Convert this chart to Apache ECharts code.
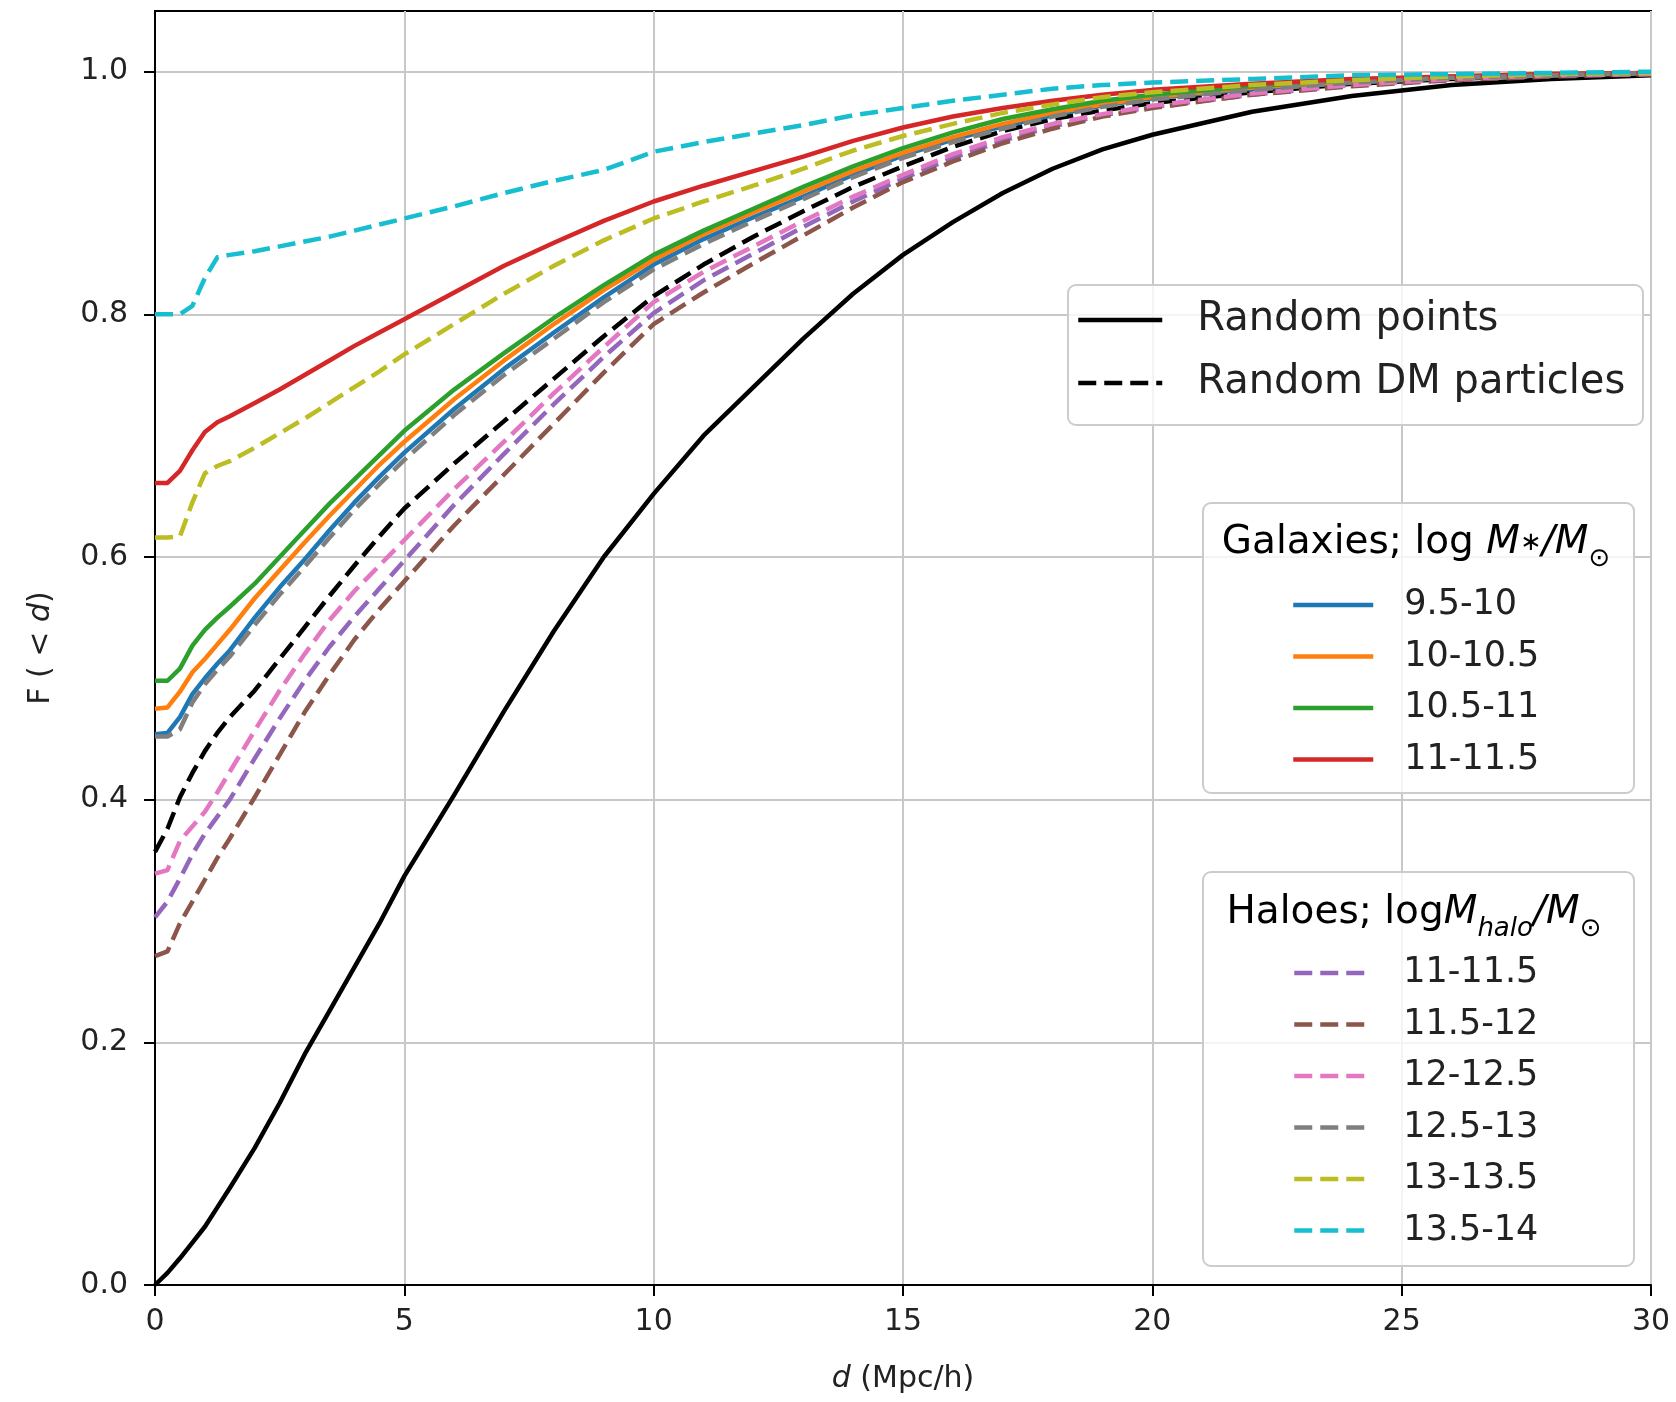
<!DOCTYPE html>
<html><head><meta charset="utf-8">
<script src="https://cdn.jsdelivr.net/npm/echarts@6/dist/echarts.min.js"></script>
<style>html,body{margin:0;padding:0;background:#fff}#c{width:1676px;height:1402px}</style>
</head><body><div id="c"></div>
<script>
// ---- data ----
const dGrid = [0,0.25,0.5,0.75,1,1.25,1.5,2,2.5,3,3.5,4,4.5,5,6,7,8,9,10,11,12,13,14,15,16,17,18,19,20,22,24,26,28,30];
const xTicks = [0,5,10,15,20,25,30];
const yTicks = [0,0.2,0.4,0.6,0.8,1.0];

const randomPoints = [0,0.01,0.022,0.035,0.048,0.064,0.08,0.113,0.15,0.19,0.226,0.262,0.298,0.337,0.404,0.473,0.539,0.60,0.652,0.70,0.74,0.78,0.817,0.849,0.876,0.90,0.92,0.936,0.948,0.967,0.98,0.989,0.994,0.997];
const randomDM = [0.357,0.376,0.402,0.422,0.44,0.455,0.468,0.49,0.516,0.542,0.568,0.593,0.617,0.64,0.677,0.712,0.747,0.782,0.815,0.841,0.864,0.885,0.905,0.922,0.938,0.951,0.961,0.968,0.974,0.983,0.99,0.994,0.997,0.998];

const galaxyNames = ['9.5-10','10-10.5','10.5-11','11-11.5'];
const gal95  = [0.454,0.455,0.468,0.487,0.5,0.512,0.523,0.55,0.575,0.598,0.622,0.645,0.666,0.686,0.722,0.755,0.785,0.814,0.841,0.862,0.88,0.897,0.915,0.931,0.944,0.955,0.964,0.972,0.978,0.986,0.991,0.995,0.997,0.999];
const gal10  = [0.475,0.476,0.489,0.505,0.516,0.528,0.54,0.566,0.589,0.612,0.634,0.655,0.676,0.695,0.73,0.762,0.792,0.82,0.845,0.866,0.884,0.901,0.918,0.933,0.946,0.957,0.966,0.973,0.979,0.987,0.992,0.995,0.997,0.999];
const gal105 = [0.498,0.498,0.508,0.527,0.54,0.55,0.559,0.578,0.6,0.622,0.644,0.664,0.684,0.704,0.738,0.768,0.797,0.824,0.849,0.869,0.887,0.905,0.922,0.937,0.95,0.961,0.969,0.976,0.981,0.988,0.993,0.996,0.998,0.999];
const gal11  = [0.661,0.661,0.671,0.688,0.703,0.711,0.716,0.727,0.738,0.75,0.762,0.774,0.785,0.796,0.818,0.84,0.859,0.877,0.893,0.906,0.918,0.93,0.943,0.954,0.963,0.97,0.976,0.981,0.985,0.99,0.994,0.996,0.998,0.999];

const haloNames = ['11-11.5','11.5-12','12-12.5','12.5-13','13-13.5','13.5-14'];
const halo11  = [0.303,0.316,0.335,0.355,0.372,0.386,0.40,0.434,0.467,0.498,0.526,0.551,0.574,0.597,0.643,0.685,0.726,0.765,0.801,0.828,0.85,0.872,0.893,0.912,0.929,0.943,0.955,0.964,0.971,0.981,0.989,0.994,0.997,0.998];
const halo115 = [0.271,0.275,0.298,0.316,0.334,0.352,0.368,0.402,0.437,0.472,0.503,0.532,0.557,0.58,0.626,0.668,0.71,0.752,0.792,0.818,0.842,0.865,0.888,0.909,0.926,0.941,0.953,0.963,0.97,0.981,0.988,0.993,0.996,0.998];
const halo12  = [0.339,0.342,0.366,0.378,0.39,0.406,0.423,0.457,0.49,0.52,0.548,0.572,0.593,0.614,0.656,0.695,0.735,0.773,0.81,0.835,0.856,0.877,0.897,0.915,0.932,0.946,0.957,0.965,0.972,0.982,0.989,0.994,0.997,0.998];
const halo125 = [0.452,0.452,0.458,0.48,0.495,0.507,0.518,0.544,0.569,0.592,0.616,0.639,0.66,0.68,0.717,0.75,0.78,0.81,0.837,0.858,0.877,0.895,0.913,0.929,0.942,0.953,0.963,0.971,0.977,0.985,0.991,0.995,0.997,0.999];
const halo13  = [0.616,0.616,0.617,0.645,0.669,0.675,0.679,0.69,0.702,0.714,0.727,0.74,0.753,0.767,0.792,0.817,0.84,0.861,0.879,0.893,0.906,0.92,0.935,0.947,0.957,0.966,0.973,0.979,0.983,0.989,0.993,0.996,0.998,0.999];
const halo135 = [0.80,0.80,0.80,0.807,0.83,0.847,0.849,0.852,0.856,0.86,0.864,0.869,0.874,0.879,0.889,0.90,0.91,0.919,0.934,0.942,0.949,0.956,0.964,0.97,0.976,0.981,0.986,0.989,0.991,0.994,0.997,0.998,0.999,1.0];

// ---- styles ----
const FONT = 'DejaVu Sans';
const TXT = '#222';
const DASH = [18, 8];
const LW = 4.5;
const galColors = ['#1f77b4','#ff7f0e','#2ca02c','#d62728'];
const haloColors = ['#9467bd','#8c564b','#e377c2','#7f7f7f','#bcbd22','#17becf'];
const galVals = [gal95, gal10, gal105, gal11];
const haloVals = [halo11, halo115, halo12, halo125, halo13, halo135];

function mk(name, vals, color, dashed) {
  return {
    type: 'line', name: name,
    data: dGrid.map((d, i) => [d, vals[i]]),
    symbol: 'none', showSymbol: false, smooth: false,
    lineStyle: {color: color, width: LW, type: dashed ? DASH : 'solid', join: 'round'},
    itemStyle: {color: color},
    emphasis: {disabled: true},
    animation: false, z: 3
  };
}

const series = [
  mk('Random points', randomPoints, '#000', false),
  mk('Random DM particles', randomDM, '#000', true)
];
galaxyNames.forEach((n, i) => series.push(mk('G ' + n, galVals[i], galColors[i], false)));
haloNames.forEach((n, i) => series.push(mk('H ' + n, haloVals[i], haloColors[i], true)));

const strip = n => n.slice(2);
const boxStyle = {fill: 'rgba(255,255,255,0.8)', stroke: '#cccccc', lineWidth: 2};
const noSymbol = {color: 'rgba(0,0,0,0)', borderWidth: 0, opacity: 0};
const legLine = {width: 4.5};

const titleRich = {
  t: {fontFamily: FONT, fontSize: 39, color: TXT, lineHeight: 50, verticalAlign: 'middle'},
  i: {fontFamily: FONT, fontSize: 39, fontStyle: 'italic', color: TXT, lineHeight: 50, verticalAlign: 'middle'},
  st: {fontFamily: FONT, fontSize: 26, color: TXT, lineHeight: 50, verticalAlign: 'middle'},
  s: {fontFamily: FONT, fontSize: 26, color: TXT, lineHeight: 58, verticalAlign: 'bottom'},
  si: {fontFamily: FONT, fontSize: 26, fontStyle: 'italic', color: TXT, lineHeight: 58, verticalAlign: 'bottom'}
};

const option = {
  backgroundColor: '#fff',
  animation: false,
  grid: {left: 155, top: 11, width: 1496, height: 1274, show: true, borderColor: '#000', borderWidth: 2, backgroundColor: 'transparent'},
  xAxis: {
    type: 'value', min: 0, max: 30, interval: 5,
    name: '{i|d} (Mpc/h)', nameLocation: 'middle', nameGap: 79,
    nameTextStyle: {fontFamily: FONT, fontSize: 30, color: TXT, rich: {i: {fontFamily: FONT, fontSize: 30, fontStyle: 'italic', color: TXT}}},
    axisLine: {show: true, lineStyle: {color: '#000', width: 2}},
    axisTick: {show: true, inside: false, length: 11, lineStyle: {color: '#000', width: 2}},
    axisLabel: {fontFamily: FONT, fontSize: 30, color: TXT, margin: 22, formatter: v => String(v)},
    splitLine: {show: true, lineStyle: {color: '#c8c8c8', width: 2}}
  },
  yAxis: {
    type: 'value', min: 0, max: 1.05, interval: 0.2,
    name: 'F ( < {i|d})', nameLocation: 'middle', nameGap: 99, nameRotate: 90,
    nameTextStyle: {fontFamily: FONT, fontSize: 30, color: TXT, rich: {i: {fontFamily: FONT, fontSize: 30, fontStyle: 'italic', color: TXT}}},
    axisLine: {show: true, lineStyle: {color: '#000', width: 2}},
    axisTick: {show: true, inside: false, length: 11, lineStyle: {color: '#000', width: 2}, customValues: yTicks},
    axisLabel: {fontFamily: FONT, fontSize: 30, color: TXT, margin: 27, customValues: yTicks,
      formatter: v => (v > 1.0001 ? '' : Number(v).toFixed(1))},
    splitLine: {show: true, lineStyle: {color: '#c8c8c8', width: 2}}
  },
  legend: [
    {data: ['Random points', 'Random DM particles'], orient: 'vertical', left: 1076, top: 296, padding: 0,
     itemWidth: 84, itemHeight: 14, itemGap: 15, selectedMode: false, z: 20, itemStyle: noSymbol, lineStyle: legLine,
     textStyle: {fontFamily: FONT, fontSize: 40, lineHeight: 48, color: TXT, padding: [0, 0, 0, 30]}},
    {data: galaxyNames.map(n => 'G ' + n), formatter: strip, orient: 'vertical', left: 1291, top: 584, padding: 0,
     itemWidth: 80, itemHeight: 14, itemGap: 9.5, selectedMode: false, z: 20, itemStyle: noSymbol, lineStyle: legLine,
     textStyle: {fontFamily: FONT, fontSize: 35, lineHeight: 42, color: TXT, padding: [0, 0, 0, 26]}},
    {data: haloNames.map(n => 'H ' + n), formatter: strip, orient: 'vertical', left: 1292, top: 952, padding: 0,
     itemWidth: 78, itemHeight: 14, itemGap: 9.5, selectedMode: false, z: 20, itemStyle: noSymbol, lineStyle: legLine,
     textStyle: {fontFamily: FONT, fontSize: 35, lineHeight: 42, color: TXT, padding: [0, 0, 0, 26]}}
  ],
  graphic: [
    {type: 'rect', z: 10, shape: {x: 1068, y: 285, width: 575, height: 140, r: 8}, style: boxStyle, silent: true},
    {type: 'rect', z: 10, shape: {x: 1203, y: 503, width: 431, height: 290, r: 8}, style: boxStyle, silent: true},
    {type: 'rect', z: 10, shape: {x: 1203, y: 872, width: 431, height: 394, r: 8}, style: boxStyle, silent: true},
    {type: 'text', z: 20, x: 1416, y: 543, silent: true,
     style: {text: '{t|Galaxies; log }{i|M}{st|∗}{i|/M}{s|⊙}', rich: titleRich, align: 'center', verticalAlign: 'middle'}},
    {type: 'text', z: 20, x: 1414, y: 913, silent: true,
     style: {text: '{t|Haloes; log}{i|M}{si|halo}{i|/M}{s|⊙}', rich: titleRich, align: 'center', verticalAlign: 'middle'}}
  ],
  series: series
};

const chart = echarts.init(document.getElementById('c'), null, {renderer: 'canvas'});
chart.setOption(option);
</script>
</body></html>
